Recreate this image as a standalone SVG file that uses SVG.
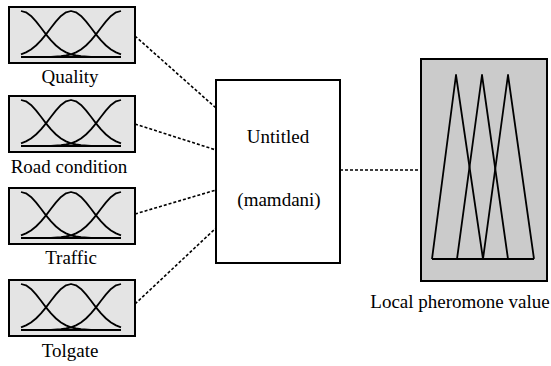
<svg xmlns="http://www.w3.org/2000/svg" width="551" height="366" viewBox="0 0 551 366">
<style>
.lbl{font-family:"Liberation Serif","DejaVu Serif",serif;font-size:19px;fill:#000;text-anchor:middle}
.inbox{fill:#e4e4e4;stroke:#000;stroke-width:2}
.mf{fill:none;stroke:#000;stroke-width:1.8;stroke-linejoin:round}
.conn{fill:none;stroke:#000;stroke-width:1.6;stroke-dasharray:3,2}
</style>
<defs>
<g id="mfs">
<rect class="inbox" x="0" y="0" width="126" height="56"/>
<polyline class="mf" points="12,50 112,50"/>
<polyline class="mf" points="12,4 17,5.3 22,8.9 27,14.4 32,20.8 37,27.4 42,33.4 47,38.5 52,42.5 57,45.4 62,47.3 67,48.5 72,49.2 82,49.8 112,50"/>
<polyline class="mf" points="12,47.3 17,45.4 22,42.5 27,38.5 32,33.4 37,27.4 42,20.8 47,14.4 52,8.9 57,5.3 62,4 67,5.3 72,8.9 77,14.4 82,20.8 87,27.4 92,33.4 97,38.5 102,42.5 107,45.4 112,47.3"/>
<polyline class="mf" points="112,4 107,5.3 102,8.9 97,14.4 92,20.8 87,27.4 82,33.4 77,38.5 72,42.5 67,45.4 62,47.3 57,48.5 52,49.2 42,49.8 12,50"/>
</g>
</defs>
<g id="connectors">
<line class="conn" x1="135" y1="36" x2="216" y2="108"/>
<line class="conn" x1="135" y1="124" x2="216" y2="150"/>
<line class="conn" x1="135" y1="214" x2="216" y2="190"/>
<line class="conn" x1="135" y1="304" x2="216" y2="228"/>
<line class="conn" x1="340" y1="170" x2="421" y2="170"/>
</g>
<g id="quality">
<use href="#mfs" x="9" y="7"/>
<text class="lbl" x="70" y="83">Quality</text>
</g>
<g id="road">
<use href="#mfs" x="9" y="96"/>
<text class="lbl" x="69" y="173">Road condition</text>
</g>
<g id="traffic">
<use href="#mfs" x="9" y="188"/>
<text class="lbl" x="71" y="264">Traffic</text>
</g>
<g id="tolgate">
<use href="#mfs" x="9" y="280"/>
<text class="lbl" x="70" y="357">Tolgate</text>
</g>
<g id="fis">
<rect x="216" y="80" width="124" height="183" fill="#fff" stroke="#000" stroke-width="2"/>
<text class="lbl" x="278" y="143">Untitled</text>
<text class="lbl" x="279" y="206">(mamdani)</text>
</g>
<g id="output">
<rect x="421" y="59" width="126" height="222" fill="#cbcbcb" stroke="#000" stroke-width="2"/>
<polyline class="mf" points="432,259 534,259"/>
<polyline class="mf" points="432,259 456,75 483,259"/>
<polyline class="mf" points="457,259 482,75 508,259"/>
<polyline class="mf" points="483,259 508,75 534,259"/>
<text class="lbl" x="460" y="308">Local pheromone value</text>
</g>
</svg>
